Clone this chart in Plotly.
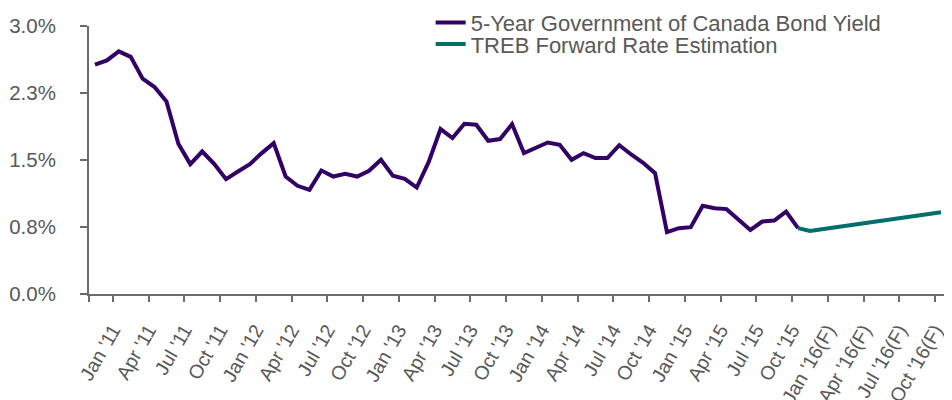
import plotly.graph_objects as go

# Category months (Nov 2010 .. Oct 2016)
months = [
    "Nov '10", "Dec '10",
    "Jan '11", "Feb '11", "Mar '11", "Apr '11", "May '11", "Jun '11",
    "Jul '11", "Aug '11", "Sep '11", "Oct '11", "Nov '11", "Dec '11",
    "Jan '12", "Feb '12", "Mar '12", "Apr '12", "May '12", "Jun '12",
    "Jul '12", "Aug '12", "Sep '12", "Oct '12", "Nov '12", "Dec '12",
    "Jan '13", "Feb '13", "Mar '13", "Apr '13", "May '13", "Jun '13",
    "Jul '13", "Aug '13", "Sep '13", "Oct '13", "Nov '13", "Dec '13",
    "Jan '14", "Feb '14", "Mar '14", "Apr '14", "May '14", "Jun '14",
    "Jul '14", "Aug '14", "Sep '14", "Oct '14", "Nov '14", "Dec '14",
    "Jan '15", "Feb '15", "Mar '15", "Apr '15", "May '15", "Jun '15",
    "Jul '15", "Aug '15", "Sep '15", "Oct '15", "Nov '15(F)", "Dec '15(F)",
    "Jan '16(F)", "Feb '16(F)", "Mar '16(F)", "Apr '16(F)", "May '16(F)", "Jun '16(F)",
    "Jul '16(F)", "Aug '16(F)", "Sep '16(F)", "Oct '16(F)",
]

# 5-Year Government of Canada Bond Yield (%), Nov '10 .. Oct '15
bond_yield = [
    2.567, 2.615, 2.716, 2.654, 2.410, 2.317, 2.156, 1.682, 1.454, 1.595,
    1.457, 1.286, 1.371, 1.454, 1.577, 1.689, 1.315, 1.211, 1.166, 1.382,
    1.315, 1.345, 1.315, 1.379, 1.502, 1.323, 1.289, 1.192, 1.476, 1.846,
    1.746, 1.906, 1.895, 1.715, 1.734, 1.902, 1.577, 1.640, 1.696, 1.670,
    1.502, 1.577, 1.521, 1.521, 1.665, 1.562, 1.469, 1.353, 0.692, 0.737,
    0.748, 0.987, 0.961, 0.950, 0.837, 0.717, 0.811, 0.822, 0.923, 0.737,
]

# TREB Forward Rate Estimation (%), Oct '15 .. Oct '16
forecast = [
    0.737, 0.706, 0.725, 0.744, 0.763, 0.782, 0.801, 0.820, 0.839, 0.858,
    0.877, 0.896, 0.914,
]

# Labelled months on the category axis
tick_labels = [
    "Jan '11", "Apr '11", "Jul '11", "Oct '11",
    "Jan '12", "Apr '12", "Jul '12", "Oct '12",
    "Jan '13", "Apr '13", "Jul '13", "Oct '13",
    "Jan '14", "Apr '14", "Jul '14", "Oct '14",
    "Jan '15", "Apr '15", "Jul '15", "Oct '15",
    "Jan '16(F)", "Apr '16(F)", "Jul '16(F)", "Oct '16(F)",
]

y_ticks = [0, 0.75, 1.5, 2.25, 3.0]
y_tick_labels = ["0.0%", "0.8%", "1.5%", "2.3%", "3.0%"]

PURPLE = "#330066"
TEAL = "#006E69"
GRAY = "#6b6b6b"
TEXT = "#595959"
FONT = "Liberation Sans, Arial, sans-serif"

idx = list(range(len(months)))
yield_x = idx[:len(bond_yield)]
fc_x = idx[len(bond_yield) - 1:len(bond_yield) - 1 + len(forecast)]

# tick marks sit on the category boundary just before each labelled month
tickvals = [-0.5] + [months.index(t) - 0.5 for t in tick_labels]
ticktext = [""] + tick_labels

fig = go.Figure()
fig.add_trace(go.Scatter(
    x=yield_x, y=bond_yield, mode="lines",
    name="5-Year Government of Canada Bond Yield",
    line=dict(color=PURPLE, width=4),
    legend="legend",
))
fig.add_trace(go.Scatter(
    x=fc_x, y=forecast, mode="lines",
    name="TREB Forward Rate Estimation",
    line=dict(color=TEAL, width=4),
    legend="legend2",
))

legend_common = dict(
    xanchor="left", yanchor="middle",
    bgcolor="rgba(0,0,0,0)", borderwidth=0,
    font=dict(family=FONT, size=22, color=TEXT),
)

# the page body adds an 8px offset, so the figure is 944x392
fig.update_layout(
    width=944, height=392,
    margin=dict(l=81, r=5, t=18, b=106, autoexpand=False),
    paper_bgcolor="white", plot_bgcolor="white",
    font=dict(family=FONT, color=TEXT),
    showlegend=True,
    legend=dict(x=0.3982, y=1.0123, **legend_common),
    legend2=dict(x=0.3982, y=0.9317, **legend_common),
    xaxis=dict(
        range=[-0.5, len(months) - 0.5],
        tickmode="array", tickvals=tickvals, ticktext=ticktext,
        tickangle=-60,
        ticks="outside", ticklen=6, tickwidth=2, tickcolor=GRAY,
        showline=True, linecolor=GRAY, linewidth=2,
        showgrid=False, zeroline=False, automargin=False,
        ticklabelstandoff=9,
        tickfont=dict(family=FONT, size=19.5, color=TEXT),
    ),
    yaxis=dict(
        range=[0, 3.0],
        tickmode="array", tickvals=y_ticks, ticktext=y_tick_labels,
        ticks="outside", ticklen=7, tickwidth=2, tickcolor=GRAY,
        showline=True, linecolor=GRAY, linewidth=2,
        showgrid=False, zeroline=False, automargin=False,
        ticklabelstandoff=20,
        tickfont=dict(family=FONT, size=20.5, color=TEXT),
    ),
)

fig.write_html("out.html")
